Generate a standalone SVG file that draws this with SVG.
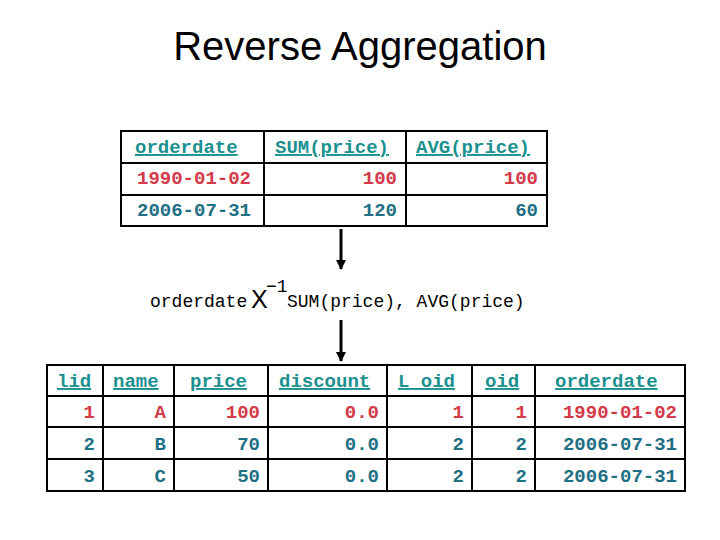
<svg xmlns="http://www.w3.org/2000/svg" width="720" height="540" viewBox="0 0 720 540">
<style>
.t{font-family:"Liberation Mono",monospace;font-size:19px;font-weight:bold}
.h{fill:#1a9090;text-decoration:underline}
.r{fill:#d33a4a}
.b{fill:#1f6f85}
.e{text-anchor:end}
.g{fill:none;stroke:#000;stroke-width:2}
</style>
<defs><marker id="a" markerWidth="10" markerHeight="10" refX="9" refY="5" orient="auto" markerUnits="userSpaceOnUse"><path d="M0,0L10,5L0,10z"/></marker></defs>
<rect width="720" height="540" fill="#fff"/>
<text x="360" y="60" text-anchor="middle" font-family="Liberation Sans,sans-serif" font-size="40">Reverse Aggregation</text>
<g id="top">
<rect class="g" x="121" y="131" width="426" height="95" stroke-width="3"/>
<path class="g" d="M264 131V226M406 131V226M121 163H547M121 195H547"/>
<text class="t h" x="135" y="153">orderdate</text><text class="t h" x="275" y="153">SUM(price)</text><text class="t h" x="416" y="153">AVG(price)</text>
<text class="t r" x="137" y="184">1990-01-02</text><text class="t r e" x="397" y="184">100</text><text class="t r e" x="538" y="184">100</text>
<text class="t b" x="137" y="216">2006-07-31</text><text class="t b e" x="397" y="216">120</text><text class="t b e" x="538" y="216">60</text>
</g>
<g id="connectors" stroke="#000" stroke-width="3">
<line x1="341" y1="229" x2="341" y2="269" marker-end="url(#a)"/>
<line x1="341" y1="320" x2="341" y2="361" marker-end="url(#a)"/>
</g>
<g id="op" font-family="Liberation Mono,monospace" font-size="18">
<text x="150" y="307">orderdate</text>
<text x="251" y="308" font-family="Liberation Sans,sans-serif" font-size="25">X</text>
<text x="266" y="292">−1</text>
<text x="287" y="307">SUM(price), AVG(price)</text>
</g>
<g id="bottom">
<rect class="g" x="47" y="365" width="638" height="126" stroke-width="3"/>
<path class="g" d="M103 365V491M174 365V491M268 365V491M387 365V491M472 365V491M535 365V491M47 396H685M47 427H685M47 459H685"/>
<text class="t h" x="57" y="387">lid</text><text class="t h" x="113" y="387">name</text><text class="t h" x="190" y="387">price</text><text class="t h" x="279" y="387">discount</text><text class="t h" x="398" y="387">L_oid</text><text class="t h" x="485" y="387">oid</text><text class="t h" x="555" y="387">orderdate</text>
<g class="t r e"><text x="95" y="418">1</text><text x="166" y="418">A</text><text x="260" y="418">100</text><text x="379" y="418">0.0</text><text x="464" y="418">1</text><text x="527" y="418">1</text><text x="677" y="418">1990-01-02</text></g>
<g class="t b e"><text x="95" y="450">2</text><text x="166" y="450">B</text><text x="260" y="450">70</text><text x="379" y="450">0.0</text><text x="464" y="450">2</text><text x="527" y="450">2</text><text x="677" y="450">2006-07-31</text></g>
<g class="t b e"><text x="95" y="482">3</text><text x="166" y="482">C</text><text x="260" y="482">50</text><text x="379" y="482">0.0</text><text x="464" y="482">2</text><text x="527" y="482">2</text><text x="677" y="482">2006-07-31</text></g>
</g>
</svg>
